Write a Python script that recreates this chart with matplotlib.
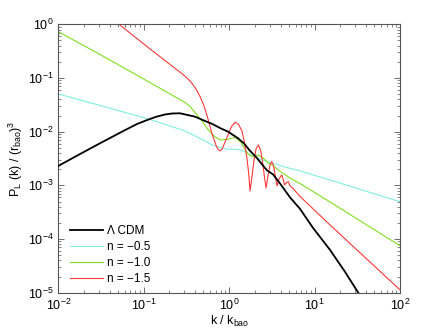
import matplotlib
matplotlib.use("Agg")
import matplotlib.pyplot as plt
from matplotlib.ticker import LogLocator, NullFormatter

plt.rcParams['font.family'] = ['Liberation Sans', 'DejaVu Sans']
plt.rcParams['mathtext.default'] = 'regular'

# Lambda CDM
k_lcdm = [0.0100, 0.01795, 0.0308, 0.0604, 0.0835, 0.1122, 0.1393, 0.1774, 0.2143, 0.2661,
          0.3990, 0.5224, 0.6310, 0.7816, 0.9705, 1.271, 1.493, 1.758, 2.065, 2.301, 2.780,
          3.266, 3.945, 5.164, 6.761, 9.594, 15.17, 22.75, 32.58]
P_lcdm = [2.30e-3, 3.83e-3, 6.08e-3, 1.07e-2, 1.39e-2, 1.67e-2, 1.89e-2, 2.09e-2, 2.18e-2, 2.20e-2,
          1.90e-2, 1.58e-2, 1.40e-2, 1.17e-2, 1.00e-2, 7.53e-3, 6.03e-3, 4.38e-3, 3.38e-3, 2.73e-3,
          1.89e-3, 1.60e-3, 1.08e-3, 5.96e-4, 3.64e-4, 1.61e-4, 6.27e-5, 2.44e-5, 9.91e-6]

# n = -0.5
k_n05 = [0.0100, 0.0308, 0.1186, 0.3048, 0.3990, 0.5224, 0.6310, 0.7816, 0.9705, 1.271,
         1.493, 1.758, 2.178, 2.780, 4.276, 6.761, 15.17, 38.99, 100.0]
P_n05 = [5.04e-2, 3.08e-2, 1.69e-2, 1.03e-2, 8.32e-3, 6.71e-3, 5.65e-3, 5.08e-3, 4.70e-3, 4.67e-3,
         4.28e-3, 3.76e-3, 3.17e-3, 2.79e-3, 2.25e-3, 1.85e-3, 1.26e-3, 7.87e-4, 4.97e-4]

# n = -1.0
k_n10 = [0.0100, 0.0308, 0.0906, 0.2032, 0.2523, 0.3048, 0.3483, 0.3990, 0.4819, 0.5662,
         0.6653, 0.7816, 0.9705, 1.172, 1.377, 1.663, 1.905, 2.178, 2.495, 2.858, 3.266,
         3.945, 5.164, 6.761, 15.17, 38.99, 100.0]
P_n10 = [0.728, 0.274, 0.1045, 5.04e-2, 4.15e-2, 3.50e-2, 2.95e-2, 2.28e-2, 1.58e-2, 1.10e-2,
         8.32e-3, 7.00e-3, 7.21e-3, 7.87e-3, 6.30e-3, 3.85e-3, 3.38e-3, 3.68e-3, 3.24e-3, 2.61e-3,
         2.35e-3, 1.82e-3, 1.37e-3, 1.08e-3, 4.91e-4, 1.91e-4, 7.53e-5]

# n = -1.5
k_n15 = [0.0308, 0.0514, 0.1186, 0.2032, 0.2884, 0.3304, 0.3681, 0.4093, 0.4560, 0.5082,
         0.5662, 0.6310, 0.7031, 0.7413, 0.7816, 0.8260, 0.8710, 0.9705, 1.0666, 1.1722,
         1.2882, 1.4060, 1.4928, 1.6069, 1.6866, 1.7579, 1.8535, 1.9588, 2.0654, 2.1979,
         2.3335, 2.4604, 2.6002, 2.7040, 2.8576, 3.0130, 3.1550, 3.3113, 3.4914, 3.6392,
         3.8371, 4.1305, 4.2756, 4.4566, 4.6989, 4.9317, 5.1642, 5.5976, 6.7608, 15.171,
         38.994, 100.0]
P_n15 = [1.94, 1.00, 0.347, 0.179, 0.1161, 9.57e-2, 7.90e-2, 6.24e-2, 4.52e-2, 3.01e-2,
         1.72e-2, 9.06e-3, 5.53e-3, 4.67e-3, 4.38e-3, 4.76e-3, 5.78e-3, 8.69e-3, 1.25e-2, 1.50e-2,
         1.36e-2, 1.05e-2, 7.00e-3, 3.42e-3, 1.78e-3, 7.87e-4, 1.50e-3, 2.97e-3, 4.76e-3, 5.65e-3,
         4.56e-3, 2.73e-3, 1.37e-3, 8.95e-4, 1.56e-3, 2.40e-3, 2.76e-3, 2.30e-3, 1.43e-3, 9.75e-4,
         1.32e-3, 1.56e-3, 1.32e-3, 1.02e-3, 1.13e-3, 1.17e-3, 9.75e-4, 8.75e-4, 6.21e-4, 1.83e-4,
         4.54e-5, 1.13e-5]

labels = ['\u039b CDM', 'n = \u22120.5', 'n = \u22121.0', 'n = \u22121.5']

fig = plt.figure(figsize=(4.43, 3.33), dpi=100)
ax = fig.add_axes([0.1316, 0.1210, 0.7713, 0.8060])

ax.plot(k_lcdm, P_lcdm, color='black', lw=1.3, label=labels[0], zorder=5)
ax.plot(k_n05, P_n05, color='#80f0e0', lw=0.8, label=labels[1])
ax.plot(k_n10, P_n10, color='#80e020', lw=0.8, label=labels[2])
ax.plot(k_n15, P_n15, color='#ff3838', lw=0.8, label=labels[3])

ax.set_xscale('log')
ax.set_yscale('log')
ax.set_xlim(1e-2, 1e2)
ax.set_ylim(1e-5, 1e0)

ax.xaxis.set_major_locator(LogLocator(base=10, numticks=10))
ax.yaxis.set_major_locator(LogLocator(base=10, numticks=10))
ax.xaxis.set_minor_locator(LogLocator(base=10, subs=range(2, 10), numticks=20))
ax.yaxis.set_minor_locator(LogLocator(base=10, subs=range(2, 10), numticks=20))
ax.xaxis.set_minor_formatter(NullFormatter())
ax.yaxis.set_minor_formatter(NullFormatter())

for s in ax.spines.values():
    s.set_color('#555555')
    s.set_linewidth(0.8)
ax.tick_params(which='both', direction='in', top=True, right=True, colors='#555555',
               labelcolor='black', labelsize=9)
ax.tick_params(which='major', length=4, width=0.6)
ax.tick_params(which='minor', length=2, width=0.5)

ax.set_xlabel('k / k$_{bao}$', fontsize=9, labelpad=1)
ax.set_ylabel('P$_L$ (k) / (r$_{bao}$)$^3$', fontsize=9, labelpad=2)

leg = ax.legend(loc='lower left', bbox_to_anchor=(0.012, 0.0), frameon=False, fontsize=8.5,
                handlelength=2.8, handletextpad=0.3, labelspacing=0.35, borderaxespad=0.25)

fig.savefig('out.png', dpi=100)
